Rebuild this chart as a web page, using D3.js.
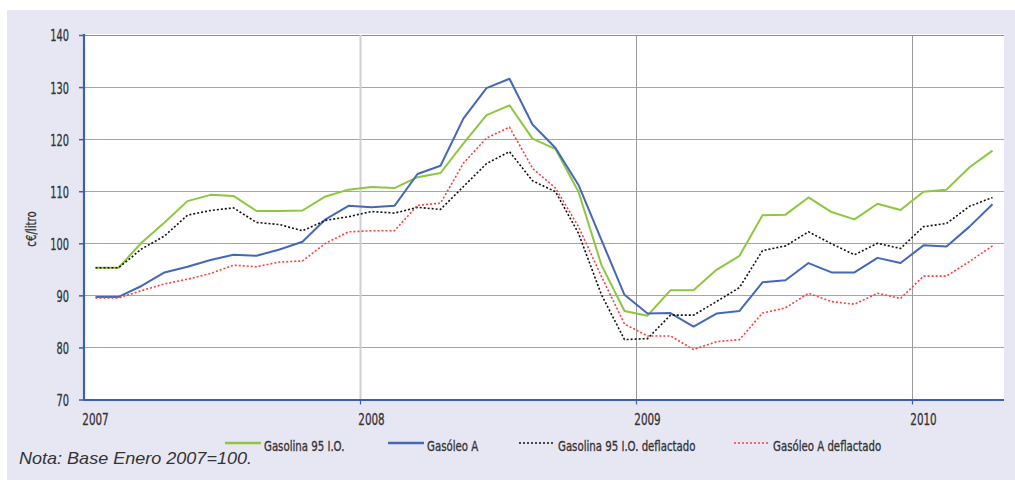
<!DOCTYPE html>
<html><head><meta charset="utf-8">
<script src="https://cdn.jsdelivr.net/npm/d3@7"></script>
<style>
html,body{margin:0;padding:0;background:#fff;}
svg{display:block;}
</style></head>
<body>
<svg id="chart" width="1015" height="480"></svg>
<script>
// ---- data ----
const years = ["2007","2008","2009","2010"];
const months = [];
["2007","2008","2009"].forEach(y => { for (let m = 1; m <= 12; m++) months.push(y + "-" + String(m).padStart(2,"0")); });
["01","02","03","04"].forEach(m => months.push("2010-" + m));

const gasolina = [95.3,95.3,100.1,104.0,108.1,109.3,109.1,106.2,106.2,106.3,
  109.0,110.3,110.8,110.6,112.7,113.5,119.2,124.6,126.5,120.1,
  118.1,109.9,95.8,87.0,86.1,91.0,91.0,94.9,97.6,105.4,
  105.5,108.8,106.0,104.6,107.6,106.4,109.9,110.3,114.6,117.8];
const gasoleo = [89.7,89.7,91.8,94.4,95.5,96.8,97.8,97.6,98.8,100.3,
  104.6,107.2,106.9,107.2,113.3,114.9,124.0,129.8,131.6,122.8,
  118.3,111.2,100.6,90.1,86.5,86.6,84.0,86.5,87.0,92.5,
  92.9,96.2,94.4,94.4,97.2,96.2,99.6,99.4,103.2,107.5];
const gasolinaDefl = [95.3,95.3,98.9,101.4,105.4,106.3,106.8,104.0,103.6,102.4,
  104.4,105.1,106.1,105.8,106.9,106.5,110.9,115.3,117.6,112.0,
  109.9,101.9,90.1,81.5,81.7,86.2,86.2,88.8,91.5,98.6,
  99.5,102.2,99.9,97.8,100.0,99.0,103.2,103.8,107.1,108.8];
const gasoleoDefl = [89.5,89.5,90.9,92.2,93.1,94.2,95.8,95.5,96.4,96.6,
  100.0,102.2,102.4,102.4,107.3,107.7,115.4,120.2,122.3,114.4,
  110.6,103.2,93.6,84.5,82.2,82.2,79.6,81.1,81.5,86.6,
  87.6,90.4,88.8,88.3,90.4,89.4,93.7,93.7,96.5,99.5];
const yTicks = [70,80,90,100,110,120,130,140];
const seriesNames = ["Gasolina 95 I.O.","Gasóleo A","Gasolina 95 I.O. deflactado","Gasóleo A deflactado"];
const yTitle = "c€/litro";
const note = "Nota: Base Enero 2007=100.";

// ---- layout ----
const svg = d3.select("#chart");
const L = 84, R = 1004, T = 35, B = 399.5;
const FONT = "'DejaVu Sans Condensed','Liberation Sans Narrow',sans-serif";
function squeeze(sel, f) {
  sel.each(function() {
    const w = this.getComputedTextLength();
    this.setAttribute("textLength", (w * f).toFixed(1));
    this.setAttribute("lengthAdjust", "spacingAndGlyphs");
  });
  sel.attr("stroke","#333").attr("stroke-width",0.3);
}

svg.append("rect").attr("x",7).attr("y",10).attr("width",1008).attr("height",470).attr("fill","#e7e7f3");
svg.append("rect").attr("x",L).attr("y",T-1).attr("width",R-L).attr("height",B-T+1).attr("fill","#fff");

const x = d3.scaleBand().domain(months).range([L,R]).paddingInner(0).paddingOuter(0);
const y = d3.scaleLinear().domain([70,140]).range([B,T]);
const cx = m => x(m) + x.bandwidth()/2;

// horizontal grid
svg.append("g").selectAll("line").data(yTicks.slice(1)).join("line")
  .attr("x1",L).attr("x2",R).attr("y1",d=>Math.round(y(d))+0.5).attr("y2",d=>Math.round(y(d))+0.5)
  .attr("stroke",d=>d===140?"#8c8c9c":"#a6a6a6").attr("stroke-width",1);

// vertical year grid
const yearStarts = years.slice(1).map(yr => yr + "-01");
svg.append("g").selectAll("line").data(yearStarts).join("line")
  .attr("x1",d=>Math.round(x(d))+0.5).attr("x2",d=>Math.round(x(d))+0.5)
  .attr("y1",T).attr("y2",B)
  .attr("stroke",(d,i)=>i===0?"#cfcfcf":"#9a9a9a").attr("stroke-width",(d,i)=>i===0?2:1);

// lines
const line = d3.line().x((d,i)=>cx(months[i])).y(d=>y(d));
const series = [
  {v:gasolina, color:"#8dc63f", dash:null, w:2},
  {v:gasoleo, color:"#4468b8", dash:null, w:2},
  {v:gasolinaDefl, color:"#111", dash:"2,2", w:1.6},
  {v:gasoleoDefl, color:"#ff3b3b", dash:"2,2", w:1.6}
];
series.forEach(s => {
  svg.append("path").attr("d", line(s.v)).attr("fill","none")
    .attr("stroke", s.color).attr("stroke-width", s.w)
    .attr("stroke-dasharray", s.dash).attr("stroke-linejoin","round");
});

// y axis
const yAxis = svg.append("g").attr("transform",`translate(${L},0)`)
  .call(d3.axisLeft(y).tickValues(yTicks).tickSize(5).tickPadding(10).tickFormat(d3.format("d")));
yAxis.select(".domain").attr("stroke","#3d5fae").attr("stroke-width",2.2).attr("d",`M0,${T-1}V${B+1}`);
yAxis.selectAll(".tick line").attr("stroke","#3d5fae").attr("stroke-width",1.5);
yAxis.selectAll("text").attr("font-family",FONT).attr("font-size",16.5).attr("fill","#333").attr("dy","0.36em");
squeeze(yAxis.selectAll("text"), 0.66);

// x axis
svg.append("line").attr("x1",L).attr("x2",R).attr("y1",B+0.5).attr("y2",B+0.5).attr("stroke","#3d5fae").attr("stroke-width",2);
svg.append("g").selectAll("line").data(yearStarts).join("line")
  .attr("x1",d=>Math.round(x(d))+0.5).attr("x2",d=>Math.round(x(d))+0.5)
  .attr("y1",B).attr("y2",B+5).attr("stroke","#3d5fae").attr("stroke-width",1.2);
const xl = svg.append("g").selectAll("text").data(years).join("text")
  .attr("x",d=>cx(d+"-01")).attr("y",425).attr("text-anchor","middle")
  .attr("font-family",FONT).attr("font-size",16.5).attr("fill","#333").text(d=>d);
squeeze(xl, 0.7);

// y title
const yt = svg.append("text").attr("transform","translate(36,229) rotate(-90)").attr("text-anchor","middle")
  .attr("font-family",FONT).attr("font-size",14.5).attr("fill","#333").text(yTitle);
squeeze(yt, 0.78);

// legend
const legX = [225, 388, 519, 734];
const lg = svg.append("g");
series.forEach((s,i) => {
  lg.append("line").attr("x1",legX[i]).attr("x2",legX[i]+36).attr("y1",443).attr("y2",443)
    .attr("stroke",s.color).attr("stroke-width",s.dash?1.6:2.5).attr("stroke-dasharray",s.dash);
  const t = lg.append("text").attr("x",legX[i]+39).attr("y",450.5).attr("font-family",FONT).attr("font-size",14.5)
    .attr("fill","#333").text(seriesNames[i]);
  squeeze(t, 0.78);
});

// note
svg.append("text").attr("x",19).attr("y",464).attr("font-family","'Liberation Sans',Arial,sans-serif")
  .attr("font-style","italic").attr("font-size",16.5).attr("fill","#333")
  .attr("textLength",233).attr("lengthAdjust","spacingAndGlyphs").text(note);
</script>
</body></html>
